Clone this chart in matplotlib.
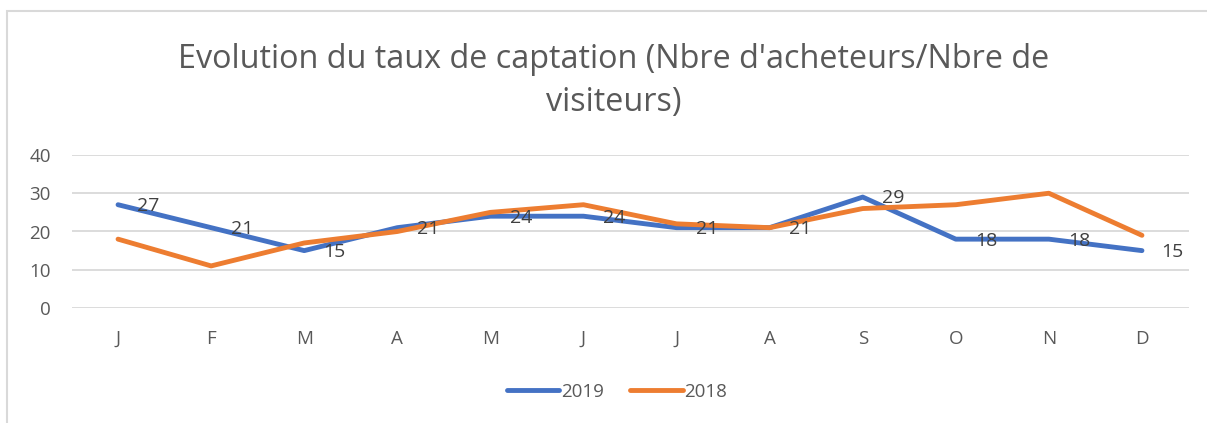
import matplotlib.pyplot as plt
from matplotlib.patches import Rectangle

months = ["J", "F", "M", "A", "M", "J", "J", "A", "S", "O", "N", "D"]
taux_2019 = [27, 21, 15, 21, 24, 24, 21, 21, 29, 18, 18, 15]
taux_2018 = [18, 11, 17, 20, 25, 27, 22, 21, 26, 27, 30, 19]
yticks = [0, 10, 20, 30, 40]

gris = "#595959"
plt.rcParams["font.family"] = ["Open Sans", "DejaVu Sans"]

W, H = 1207, 423
fig = plt.figure(figsize=(W / 100, H / 100), dpi=100)

# cadre du graphique
fig.patches.append(Rectangle((7 / W, -0.1), 1.1, 1 - 11 / H + 0.1,
                             transform=fig.transFigure, fill=False,
                             edgecolor="#D9D9D9", linewidth=1.5))

ax = fig.add_axes([71.5 / W, 1 - 308 / H, 1117 / W, 153 / H])
x = range(len(months))
ax.plot(x, taux_2019, color="#4472C4", lw=3.5, solid_capstyle="round",
        solid_joinstyle="round", label="2019", zorder=3)
ax.plot(x, taux_2018, color="#ED7D31", lw=3.5, solid_capstyle="round",
        solid_joinstyle="round", label="2018", zorder=4)

for i, v in enumerate(taux_2019):
    ax.annotate(str(v), (i, v), xytext=(14, -1), textcoords="offset points",
                ha="left", va="center", fontsize=14, color="#404040", zorder=5)

ax.set_xlim(-0.5, len(months) - 0.5)
ax.set_ylim(0, 40)
ax.set_yticks(yticks)
ax.set_xticks(list(x))
ax.set_xticklabels(months)
ax.grid(axis="y", color="#D9D9D9", lw=1.3)
ax.set_axisbelow(True)
for s in ax.spines.values():
    s.set_visible(False)
ax.tick_params(length=0, colors=gris, labelsize=13.5)
ax.tick_params(axis="x", pad=16)
ax.tick_params(axis="y", pad=15)

fig.text(614 / W, 1 - 60 / H,
         "Evolution du taux de captation (Nbre d'acheteurs/Nbre de",
         ha="center", va="center", fontsize=23.3, color=gris)
fig.text(614 / W, 1 - 103 / H, "visiteurs)",
         ha="center", va="center", fontsize=23.3, color=gris)

fig.legend(loc="center", bbox_to_anchor=(617 / W, 1 - 392 / H), ncol=2,
           frameon=False, fontsize=13.5, labelcolor=gris, handlelength=2.8,
           handletextpad=0.1, columnspacing=1.4)

fig.savefig("out.png", dpi=100)
